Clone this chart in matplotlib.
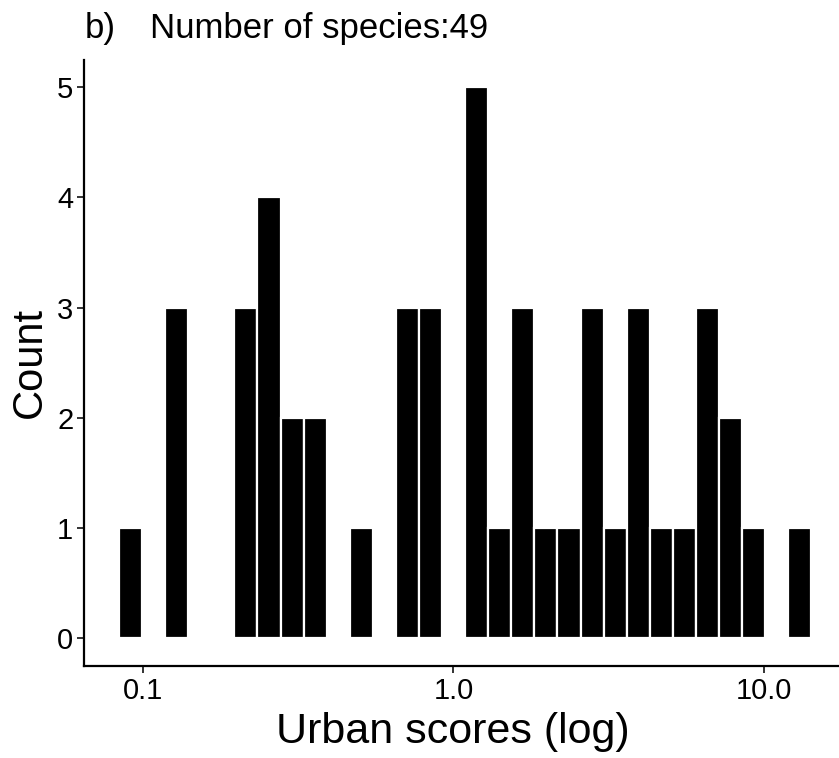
import numpy as np
import matplotlib.pyplot as plt

plt.rcParams['font.family'] = ['Liberation Sans', 'DejaVu Sans']

# histogram of urban scores (log10 scale), 30 bins
log_min = -1.076
log_max = 1.152
counts = [1, 0, 3, 0, 0, 3, 4, 2, 2, 0,
          1, 0, 3, 3, 0, 5, 1, 3, 1, 1,
          3, 1, 3, 1, 1, 3, 2, 1, 0, 1]
xticks = [0.1, 1.0, 10.0]
xtick_labels = ['0.1', '1.0', '10.0']
yticks = [0, 1, 2, 3, 4, 5]
n_species = 49

edges = 10 ** np.linspace(log_min, log_max, len(counts) + 1)

fig = plt.figure(figsize=(8.39, 7.58), dpi=100)
ax = fig.add_axes([0.1006, 0.122, 0.9077, 0.7991])

ax.bar(edges[:-1], counts, width=np.diff(edges), align='edge',
       color='black', edgecolor='white', linewidth=1.6)

ax.set_xscale('log')
pad = 0.05 * (log_max - log_min)
ax.set_xlim(10 ** (log_min - pad), 10 ** (log_max + pad))
ax.set_ylim(-0.25, 5.25)
ax.set_xticks(xticks)
ax.set_xticklabels(xtick_labels)
ax.minorticks_off()
ax.set_yticks(yticks)

for s in ['top', 'right']:
    ax.spines[s].set_visible(False)
for s in ['left', 'bottom']:
    ax.spines[s].set_linewidth(1.6)
    ax.spines[s].set_color('black')
ax.tick_params(axis='both', length=5, width=1.4, color='#333333',
               labelsize=21, labelcolor='black', pad=3)

ax.set_xlabel('Urban scores (log)', fontsize=31)
ax.xaxis.set_label_coords(0.4833, -0.077)
ax.set_ylabel('Count', fontsize=30, labelpad=5)

fig.text(85 / 839, 1 - 38 / 758, 'b)', fontsize=25, va='baseline', ha='left')
fig.text(150 / 839, 1 - 38 / 758, 'Number of species:' + str(n_species),
         fontsize=25, va='baseline', ha='left')

fig.savefig('out.png', dpi=100)
